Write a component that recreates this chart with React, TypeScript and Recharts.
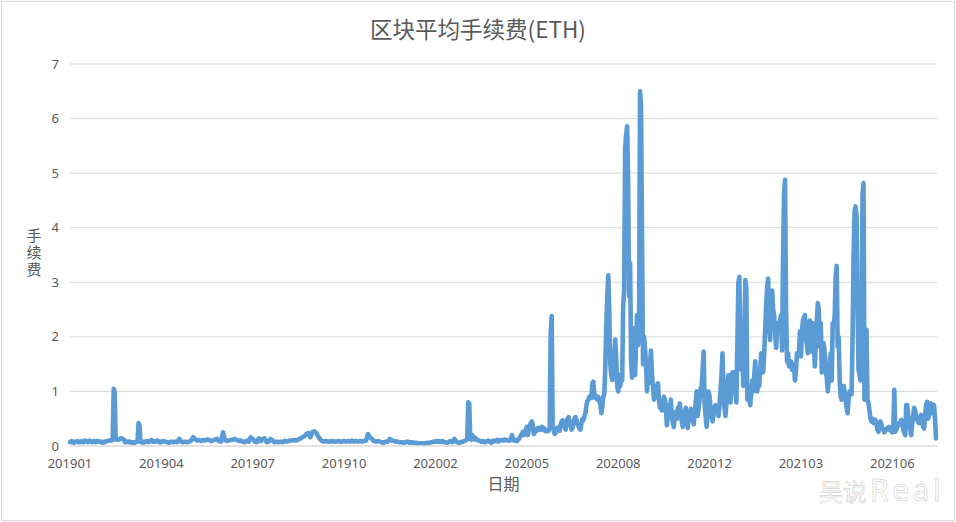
import React from "react";
import { LineChart, Line, XAxis, YAxis, CartesianGrid, Label } from "recharts";

const tickLabels = ["201901", "201904", "201907", "201910", "202002", "202005", "202008", "202012", "202103", "202106"];
const yTicks = [0, 1, 2, 3, 4, 5, 6, 7];
const tickStep = 46;

const fee201901 = [
  0.07, 0.08, 0.09, 0.07, 0.06, 0.07, 0.08, 0.09, 0.07, 0.08,
  0.07, 0.08, 0.09, 0.07, 0.07, 0.1, 0.09, 0.08, 0.07, 0.09,
  0.1, 0.08, 0.07, 0.08, 0.09, 0.08, 0.07, 0.09, 0.09, 0.08,
  0.08, 0.07, 0.08, 0.06, 0.07, 0.07, 0.08, 0.09, 0.09, 0.1,
  0.1, 0.11, 0.1, 0.12, 1.05, 0.98, 0.12, 0.13, 0.11, 0.12,
  0.13, 0.14, 0.14, 0.13, 0.12, 0.08, 0.07, 0.08, 0.08, 0.07,
  0.08, 0.07, 0.06, 0.07, 0.07, 0.06, 0.07, 0.08, 0.08, 0.42,
  0.38, 0.08, 0.07, 0.08, 0.06, 0.07, 0.08, 0.09, 0.08, 0.07,
  0.09, 0.09, 0.11, 0.09, 0.08, 0.09, 0.08, 0.09, 0.1, 0.08,
  0.07, 0.08,
];
const fee201904 = [
  0.07, 0.09, 0.08, 0.07, 0.06, 0.08, 0.07, 0.08, 0.07, 0.13,
  0.08, 0.07, 0.08, 0.07, 0.08, 0.1, 0.16, 0.13, 0.1, 0.11,
  0.09, 0.11, 0.1, 0.12, 0.11, 0.09, 0.1, 0.12, 0.13, 0.09,
  0.08, 0.25, 0.11, 0.09, 0.1, 0.11, 0.12, 0.13, 0.11, 0.09,
  0.1, 0.08, 0.07, 0.1, 0.08, 0.16,
];
const fee201907 = [
  0.13, 0.08, 0.07, 0.14, 0.09, 0.13, 0.14, 0.07, 0.08, 0.13,
  0.1, 0.07, 0.08, 0.07, 0.08, 0.07, 0.09, 0.08, 0.09, 0.1,
  0.1, 0.11, 0.1, 0.12, 0.14, 0.16, 0.18, 0.22, 0.24, 0.16,
  0.25, 0.27, 0.24, 0.17, 0.12, 0.09, 0.08, 0.09, 0.08, 0.08,
  0.09, 0.08, 0.08, 0.09, 0.08, 0.08,
];
const fee201910 = [
  0.09, 0.08, 0.09, 0.08, 0.1, 0.08, 0.09, 0.08, 0.09, 0.08,
  0.09, 0.1, 0.22, 0.16, 0.13, 0.09, 0.08, 0.09, 0.08, 0.07,
  0.06, 0.08, 0.08, 0.13, 0.1, 0.09, 0.08, 0.08, 0.07, 0.07,
  0.06, 0.07, 0.08, 0.06, 0.07, 0.06, 0.06, 0.05, 0.05, 0.05,
  0.05, 0.05, 0.06, 0.06, 0.07, 0.08,
];
const fee202002 = [
  0.08, 0.08, 0.09, 0.08, 0.09, 0.08, 0.08, 0.09, 0.08, 0.07,
  0.07, 0.06, 0.06, 0.07, 0.08, 0.09, 0.08, 0.07, 0.09, 0.13,
  0.11, 0.09, 0.07, 0.06, 0.06, 0.07, 0.07, 0.08, 0.08, 0.09,
  0.1, 0.11, 0.12, 0.8, 0.78, 0.14, 0.12, 0.2, 0.16, 0.12,
  0.15, 0.13, 0.11, 0.1, 0.1, 0.09, 0.08, 0.08, 0.09, 0.07,
  0.07, 0.08, 0.09, 0.1, 0.08, 0.08, 0.06, 0.07, 0.1, 0.09,
  0.09, 0.1, 0.11, 0.08, 0.09, 0.11, 0.1, 0.11, 0.11, 0.1,
  0.12, 0.11, 0.1, 0.1, 0.11, 0.1, 0.13, 0.2, 0.14, 0.1,
  0.11, 0.11, 0.09, 0.11, 0.13, 0.16, 0.2, 0.22, 0.26, 0.2,
  0.24, 0.3,
];
const fee202005 = [
  0.35, 0.2, 0.3, 0.38, 0.42, 0.45, 0.38, 0.22, 0.25, 0.3,
  0.28, 0.33, 0.33, 0.3, 0.31, 0.35, 0.3, 0.33, 0.28, 0.27,
  0.27, 0.3, 0.28, 0.33, 2.05, 2.38, 0.35, 0.3, 0.22, 0.25,
  0.33, 0.3, 0.34, 0.28, 0.38, 0.45, 0.47, 0.4, 0.36, 0.3,
  0.45, 0.5, 0.53, 0.45, 0.38, 0.3, 0.33, 0.42, 0.5, 0.53,
  0.48, 0.4, 0.36, 0.32, 0.3, 0.42, 0.5, 0.47, 0.55, 0.6,
  0.75, 0.82, 0.85, 0.9, 0.92, 0.88, 1.15, 1.18, 0.9, 0.88,
  0.92, 0.85, 0.9, 0.82, 0.78, 0.6, 0.72, 0.9, 0.95, 1.45,
  2.2, 2.74, 3.13, 2.5, 1.5, 1.3, 1.21, 1.45, 1.6, 1.95,
  1.6, 1.1,
];
const fee202008 = [
  1.0, 1.3, 1.1, 1.25, 1.2, 2.55, 2.86, 5.46, 5.7, 5.86,
  4.8, 2.74, 3.35, 1.5, 1.25, 2.16, 1.5, 1.3, 1.9, 2.4,
  1.85, 2.2, 6.5, 6.2, 3.84, 1.5, 2.0, 1.8, 1.5, 1.0,
  1.35, 1.15, 1.5, 1.75, 1.3, 1.1, 0.85, 1.1, 0.9, 1.05,
  1.15, 0.85, 0.7, 0.8, 0.65, 0.8, 0.9, 0.85, 0.7, 0.38,
  0.55, 0.75, 0.6, 0.85, 0.55, 0.42, 0.35, 0.55, 0.62, 0.5,
  0.7, 0.6, 0.78, 0.55, 0.45, 0.35, 0.55, 0.65, 0.7, 0.5,
  0.33, 0.5, 0.55, 0.68, 0.6, 0.5, 0.4, 0.6, 0.8, 1.0,
  0.55, 0.7, 0.85, 1.05, 1.09, 1.4, 1.73, 0.78, 0.55, 0.35,
  0.6, 1.0,
];
const fee202012 = [
  0.9, 0.7, 0.55, 0.45, 0.6, 0.7, 0.75, 0.68, 0.6, 0.55,
  0.75, 1.0, 1.3, 1.7, 1.1, 0.7, 0.55, 0.8, 1.1, 1.3,
  1.05, 0.8, 1.1, 1.35, 1.3, 1.35, 1.0, 0.8, 1.9, 3.0,
  3.1, 1.9, 1.4, 1.7, 1.1, 1.9, 3.04, 2.9, 0.85, 1.1,
  0.85, 0.75, 1.0, 1.2, 1.0, 1.3, 1.55, 1.2, 1.0, 1.15,
  1.1, 1.4, 1.7, 1.5, 1.35, 1.7, 2.13, 2.6, 2.9, 3.07,
  2.2, 1.94, 2.6, 2.85, 2.5, 2.4, 2.1, 1.8, 2.1, 2.25,
  2.15, 2.3, 2.4, 1.75, 3.45, 4.6, 4.88, 2.5, 1.55, 1.7,
  1.46, 1.5, 1.55, 1.4, 1.5, 1.45, 1.2, 1.4, 1.7, 1.65,
  1.7, 2.1,
];
const fee202103 = [
  1.64, 2.1, 2.3, 2.35, 2.4, 2.0, 1.85, 1.7, 2.0, 2.3,
  2.0, 1.73, 2.25, 1.9, 1.46, 1.9, 2.3, 2.62, 2.5, 1.82,
  2.25, 1.35, 1.6, 1.88, 1.7, 1.4, 1.25, 1.0, 1.2, 1.5,
  1.7, 1.2, 2.25, 2.2, 2.4, 3.1, 3.3, 1.82, 2.0, 1.2,
  0.9, 0.85, 1.0, 1.1, 1.0, 0.85, 0.7, 0.6, 0.85, 1.0,
  0.95, 0.95, 2.0, 3.47, 4.3, 4.39, 4.2, 2.55, 1.4, 1.3,
  1.2, 1.88, 4.6, 4.82, 0.85, 2.1, 2.13, 0.85, 0.78, 0.65,
  0.5, 0.45, 0.5, 0.42, 0.48, 0.48, 0.42, 0.3, 0.26, 0.35,
  0.45, 0.4, 0.33, 0.3, 0.25, 0.3, 0.3, 0.33, 0.3, 0.35,
  0.3, 0.27,
];
const fee202106 = [
  0.25, 0.3, 1.03, 0.26, 0.3, 0.35, 0.38, 0.42, 0.4, 0.48,
  0.42, 0.3, 0.25, 0.2, 0.75, 0.75, 0.55, 0.45, 0.3, 0.2,
  0.4, 0.55, 0.7, 0.65, 0.55, 0.48, 0.45, 0.42, 0.5, 0.57,
  0.48, 0.35, 0.32, 0.55, 0.75, 0.81, 0.5, 0.55, 0.7, 0.78,
  0.65, 0.6, 0.75, 0.5, 0.14,
];

const feeBlocks = [fee201901, fee201904, fee201907, fee201910, fee202002, fee202005, fee202008, fee202012, fee202103];
const tickDays = tickLabels.map((_, k) => k * tickStep);
const FINE_STEP = tickStep / 92;
const data = [
  ...feeBlocks.flatMap((block, k) => block.map((fee, j) => ({ day: k * tickStep + (j * tickStep) / block.length, fee }))),
  ...fee202106.map((fee, j) => ({ day: 9 * tickStep + j * FINE_STEP, fee })),
];
const lastDay = 9 * tickStep + (fee202106.length - 1) * FINE_STEP + 0.5;

const GREY = "#595959";
const GRID = "#d9d9d9";
const FONT = "'Noto Sans', sans-serif";
const CJK = "'Noto Sans CJK SC', sans-serif";

const YTitle = () => (
  <text
    x={34}
    y={228}
    fontFamily={CJK}
    fontSize={15}
    fill={GREY}
    style={{ writingMode: "vertical-rl", textOrientation: "upright", letterSpacing: "2px" }}
  >
    手续费
  </text>
);

export default function App() {
  return (
    <div style={{ position: "absolute", left: 0, top: 0, width: 956, height: 522, background: "#fff", overflow: "hidden" }}>
      <div style={{ position: "absolute", left: 1, top: 1, width: 954, height: 520, boxSizing: "border-box", border: `1px solid ${GRID}` }} />
      <div style={{ position: "absolute", left: 0, width: 956, top: 13, textAlign: "center", fontFamily: CJK, fontSize: 22.5, lineHeight: "30px", color: GREY }}>
        区块平均手续费(ETH)
      </div>
      <LineChart width={956} height={522} data={data} margin={{ left: 40, right: 19, top: 64, bottom: 33 }} style={{ position: "absolute", left: 0, top: 0 }}>
        <CartesianGrid vertical={false} stroke={GRID} strokeWidth={1} />
        <XAxis
          dataKey="day"
          type="number"
          domain={[0, lastDay]}
          ticks={tickDays}
          interval={0}
          tickFormatter={(v: number) => tickLabels[Math.round(v / tickStep)] ?? ""}
          tick={{ fontFamily: FONT, fontSize: 13, fill: GREY }}
          tickLine={false}
          axisLine={{ stroke: GRID }}
          tickMargin={7}
          height={43}
        >
          <Label value="日期" position="insideBottom" offset={-1} style={{ fontFamily: CJK, fontSize: 16, fill: GREY }} />
        </XAxis>
        <YAxis
          width={30}
          domain={[0, 7]}
          ticks={yTicks}
          tick={{ fontFamily: FONT, fontSize: 13, fill: GREY }}
          tickLine={false}
          axisLine={false}
          tickMargin={5}
        >
          <Label content={<YTitle />} />
        </YAxis>
        <Line type="linear" dataKey="fee" stroke="#5B9BD5" strokeWidth={4.6} dot={false} strokeLinecap="round" strokeLinejoin="round" isAnimationActive={false} />
      </LineChart>
      <div style={{ position: "absolute", left: 819, top: 477, height: 26, whiteSpace: "nowrap", fontFamily: CJK, fontSize: 24, lineHeight: "26px", color: "#fff", WebkitTextStroke: "0.5px #c4c4c4" }}>
        吴说<span style={{ fontFamily: FONT, fontSize: 30, lineHeight: "26px", letterSpacing: "3.5px", marginLeft: 3 }}>Real</span>
      </div>
    </div>
  );
}
